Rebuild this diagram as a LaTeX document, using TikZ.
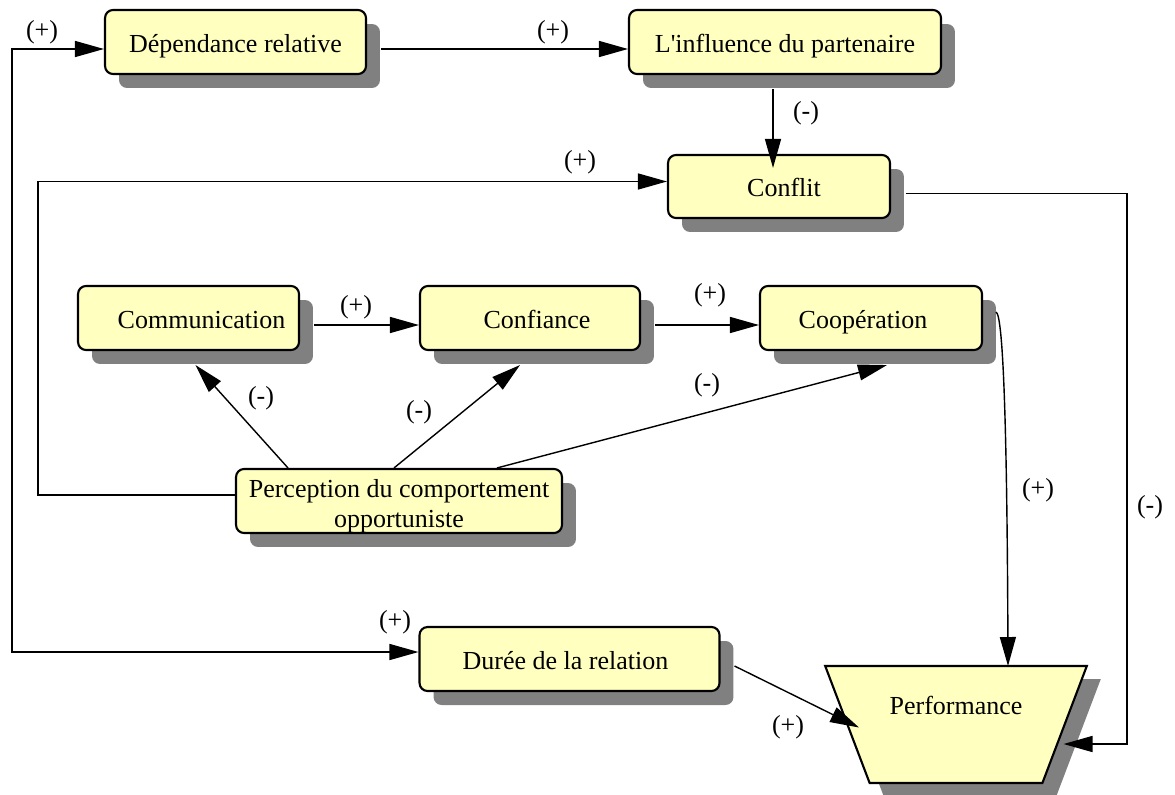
\documentclass[tikz,border=0pt]{standalone}
\usepackage{fontspec}
\setmainfont{Liberation Serif}
\usetikzlibrary{arrows.meta,shapes.geometric,shadows}

\definecolor{boxfill}{RGB}{255,255,192}
\definecolor{shadowgray}{RGB}{128,128,128}

\begin{document}
\begin{tikzpicture}[x=0.02cm, y=-0.02cm,
  >={Triangle[length=0.58cm,width=0.32cm]},
  box/.style={draw, line width=1.2pt, rounded corners=0.16cm, fill=boxfill,
    minimum height=1.28cm, inner sep=0pt, align=center,
    text height=0.5cm, text depth=0.08cm,
    font=\fontsize{14.8}{17}\selectfont,
    drop shadow={shadow xshift=0.28cm, shadow yshift=-0.28cm, fill=shadowgray, opacity=1}},
  arr/.style={line width=0.8pt, ->},
  sign/.style={inner sep=0pt, font=\fontsize{14.8}{17}\selectfont}]
% Set the page size (pixels of the reference)
\useasboundingbox (0,0) rectangle (1175,794);

% Draw the boxes
\node[box, minimum width=5.22cm] (dep) at (235.5,42) {Dépendance relative};
\node[box, minimum width=6.24cm] (infl) at (785,42) {L\textquotesingle influence du partenaire};
\node[box, minimum width=4.44cm, minimum height=1.26cm] (confl) at (779,186.5) {\hspace*{0.2cm}Conflit};
\node[box, minimum width=4.42cm] (comm) at (188.5,318) {\hspace*{0.52cm}Communication};
\node[box, minimum width=4.4cm] (confi) at (530,318) {\hspace*{0.28cm}Confiance};
\node[box, minimum width=4.44cm] (coop) at (871,318) {Coopération\hspace*{0.32cm}};
\node[box, minimum width=6.52cm, text height=, text depth=] (perc) at (399,501)
  {\rule{0pt}{0.56cm}Perception du comportement\\opportuniste};
\node[box, minimum width=6cm] (dur) at (569.5,659) {Durée de la relation\hspace*{0.16cm}};
\node[draw, line width=1.2pt, fill=boxfill, trapezium, shape border rotate=180,
  trapezium angle=60.8, trapezium stretches=true, minimum width=5.24cm,
  minimum height=2.34cm, inner sep=2pt, font=\fontsize{14.8}{17}\selectfont,
  drop shadow={shadow xshift=0.28cm, shadow yshift=-0.26cm, fill=shadowgray, opacity=1}]
  (perf) at (956,724.5) {\raisebox{0.78cm}{Performance}};

% Return lines on the left and right
\coordinate (lft) at (12,350);
\coordinate (lft2) at (38,350);
\coordinate (rgt) at (1127,450);

% Draw the arrows
\draw[arr] ([shift={(14,7)}]dep.east) -- ([shift={(0,7)}]infl.west);
\draw[line width=0.8pt, <->] ([shift={(0,7)}]dep.west) -| (lft) |- ([shift={(0,-7)}]dur.west);
\draw[arr] ([shift={(-12,14)}]infl.south) -- ([shift={(-12,14)}]infl.south |- confl.north);
\draw[arr] ([shift={(0,-6)}]perc.west) -| (lft2) |- ([shift={(0,-5)}]confl.west);
\draw[arr] ([shift={(15,7)}]confl.east) -| (rgt) |- ([shift={(107.5,19.5)}]perf.center);
\draw[arr] ([shift={(14,7)}]comm.east) -- ([shift={(0,7)}]confi.west);
\draw[arr] ([shift={(14,7)}]confi.east) -- ([shift={(0,7)}]coop.west);
\draw[arr] ([shift={(-111,0)}]perc.north) -- ([shift={(7,14)}]comm.south);
\draw[arr] ([shift={(-5,0)}]perc.north) -- ([shift={(-10,14)}]confi.south);
\draw[arr] ([shift={(98,0)}]perc.north) -- ([shift={(16,14)}]coop.south);
\draw[arr] ([shift={(13,-6)}]coop.east) .. controls (1003,315) and (1007,420) .. ([shift={(52,-58.5)}]perf.center);
\draw[arr] ([shift={(14,7)}]dur.east) -- ([shift={(-97,3)}]perf.center);

% Insert the signs
\node[sign] (s1) at (42,32) {(+)};
\node[sign] (s2) at (553,32) {(+)};
\node[sign] (s3) at (806,113) {(-)};
\node[sign] (s4) at (580,162) {(+)};
\node[sign] (s5) at (356,307) {(+)};
\node[sign] (s6) at (710,295) {(+)};
\node[sign] (s7) at (261,398) {(-)};
\node[sign] (s8) at (419,412) {(-)};
\node[sign] (s9) at (707,385) {(-)};
\node[sign] (s10) at (1038,490) {(+)};
\node[sign] (s11) at (1150,507) {(-)};
\node[sign] (s12) at (395,622) {(+)};
\node[sign] (s13) at (788,727) {(+)};
\end{tikzpicture}
\end{document}
